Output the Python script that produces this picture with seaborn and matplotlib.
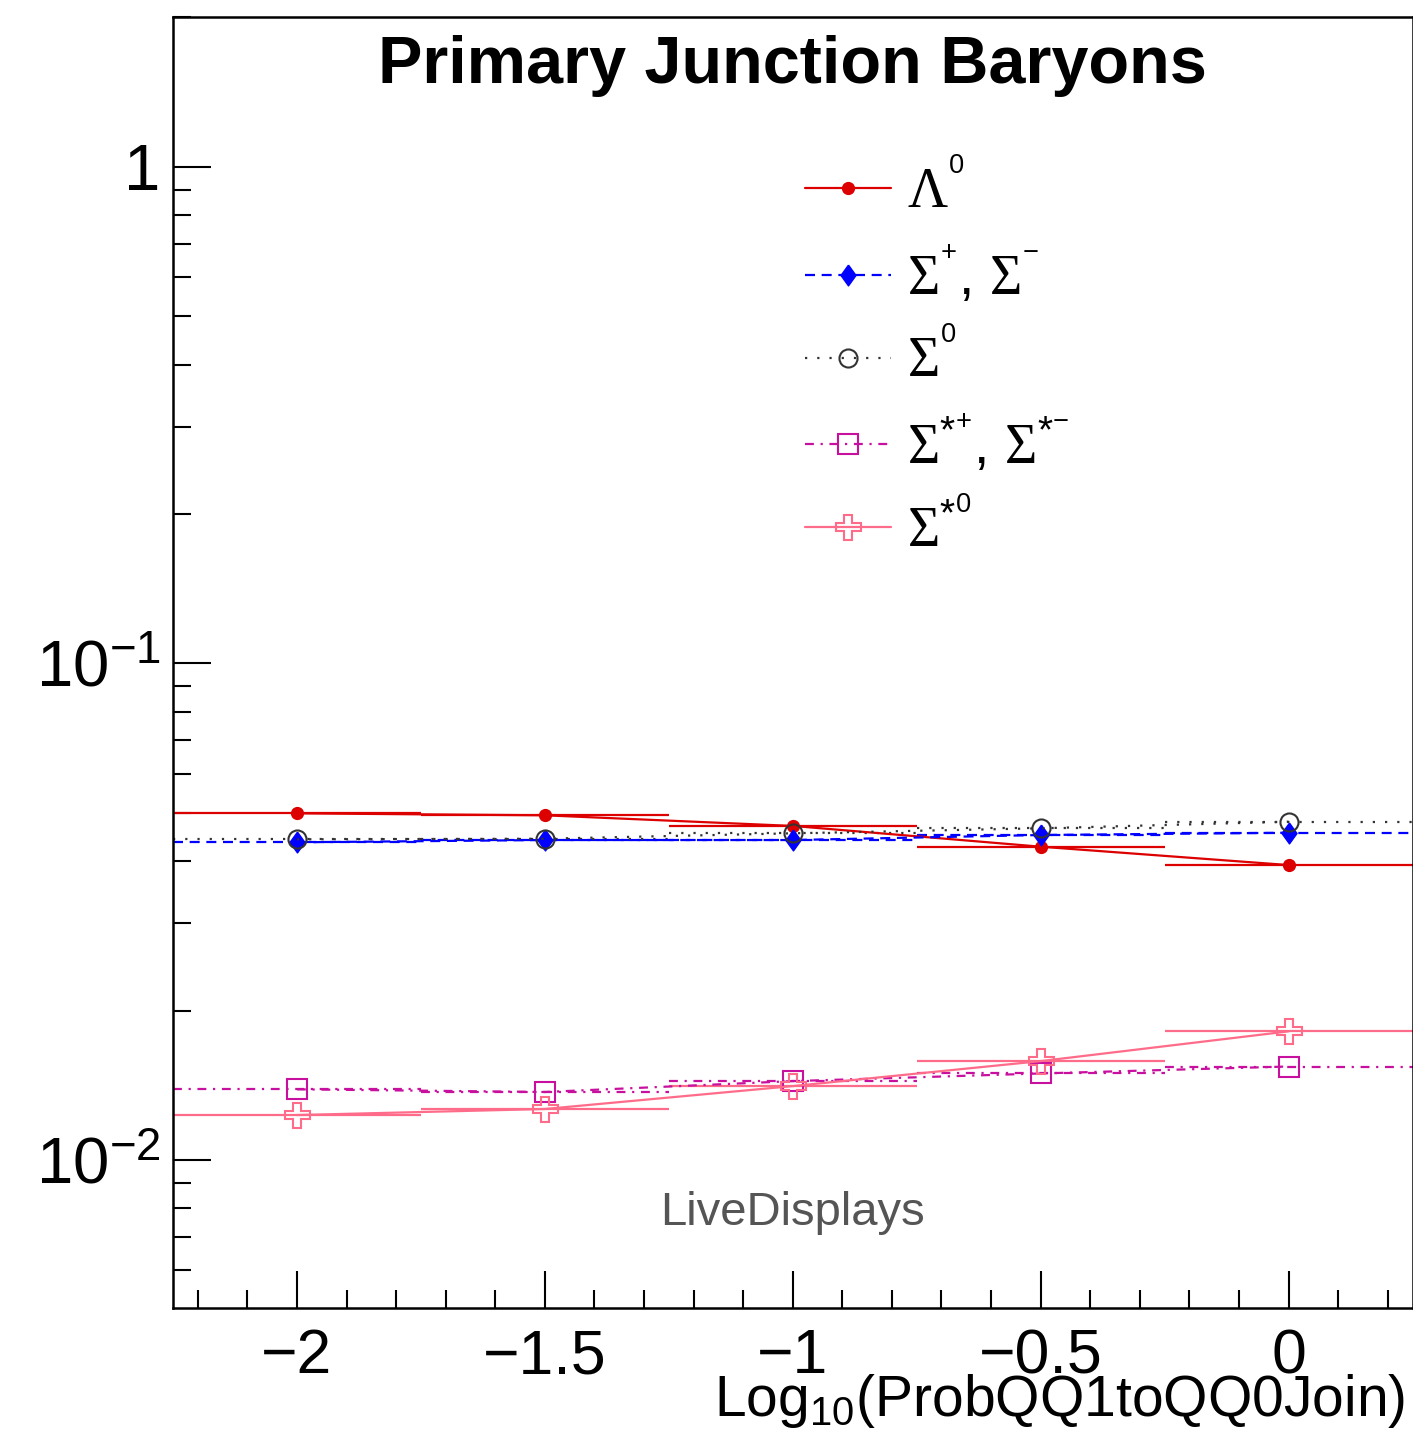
import numpy as np
import pandas as pd
import matplotlib
matplotlib.use("Agg")
import matplotlib.pyplot as plt
import seaborn as sns
from matplotlib.ticker import FixedLocator, FixedFormatter, NullFormatter

# ---------------- data ----------------
x_vals = [-2.0, -1.5, -1.0, -0.5, 0.0]
lambda0 = [0.04991, 0.04946, 0.04708, 0.04276, 0.03927]
sigma_pm = [0.04364, 0.04410, 0.04410, 0.04514, 0.04562]
sigma0 = [0.04425, 0.04437, 0.04550, 0.04657, 0.04801]
sigmastar_pm = [0.01388, 0.01371, 0.01442, 0.01494, 0.01543]
sigmastar0 = [0.01232, 0.01267, 0.01409, 0.01582, 0.01816]
bin_half_width = 0.25

series_names = ["Λ0", "Σ±", "Σ0", "Σ*±", "Σ*0"]
series_labels = [
    r"$\mathcal{\Lambda}^{{}^{0}}$",
    r"$\mathcal{\Sigma}^{{}^{+}}$, $\mathcal{\Sigma}^{{}^{-}}$",
    r"$\mathcal{\Sigma}^{{}^{0}}$",
    r"$\mathcal{\Sigma}^{*^{+}}$, $\mathcal{\Sigma}^{*^{-}}$",
    r"$\mathcal{\Sigma}^{*^{0}}$",
]
x_tick_vals = [-2.0, -1.5, -1.0, -0.5, 0.0]
x_tick_labels = ["\u22122", "\u22121.5", "\u22121", "\u22120.5", "0"]
y_tick_vals = [0.01, 0.1, 1.0]
y_tick_labels = [r"$10^{-2}$", r"$10^{-1}$", "1"]
title = "Primary Junction Baryons"
xlabel = r"Log$_{10}$(ProbQQ1toQQ0Join)"
watermark = "LiveDisplays"

# ---------------- style ----------------
sns.set_style("white")
plt.rcParams["font.family"] = ["Liberation Sans", "DejaVu Sans"]
plt.rcParams["text.color"] = "black"
plt.rcParams["axes.labelcolor"] = "black"
plt.rcParams["mathtext.fontset"] = "custom"
plt.rcParams["mathtext.rm"] = "Liberation Sans"
plt.rcParams["mathtext.it"] = "Liberation Sans:italic"
plt.rcParams["mathtext.bf"] = "Liberation Sans:bold"
plt.rcParams["mathtext.cal"] = "Liberation Serif"

W, H = 1413, 1438
fig = plt.figure(figsize=(W / 100, H / 100), dpi=100)
fig.patch.set_facecolor("white")
ax = fig.add_axes([173 / W, (H - 1308) / H, (1412.5 - 173) / W, (1308 - 17) / H])
ax.set_facecolor("white")

diamond = [(0, 1), (0.72, 0), (0, -1), (-0.72, 0), (0, 1)]
styles = {
    "Λ0": dict(color="#dd0000", ls="-", marker="o", ms=8.5, mfc="#dd0000", mew=1.0),
    "Σ±": dict(color="#0000ff", ls=(0, (4.5, 3)), marker=diamond, ms=15, mfc="#0000ff", mew=1.0),
    "Σ0": dict(color="#333333", ls=(0, (1, 4.5)), marker="o", ms=13, mfc="none", mew=1.5),
    "Σ*±": dict(color="#c8109f", ls=(0, (4, 3, 1, 3)), marker="s", ms=15, mfc="none", mew=1.5),
    "Σ*0": dict(color="#ff6c8a", ls="-", marker="P", ms=18, mfc="none", mew=1.5),
}
all_y = [lambda0, sigma_pm, sigma0, sigmastar_pm, sigmastar0]

rows = []
for name, ys in zip(series_names, all_y):
    for xv, yv in zip(x_vals, ys):
        rows.append({"series": name, "x": xv, "y": yv})
df = pd.DataFrame(rows)

handles = []
for name, label in zip(series_names, series_labels):
    st = styles[name]
    sub = df[df["series"] == name]
    # horizontal bin-width bars
    ax.hlines(sub["y"], sub["x"] - bin_half_width, sub["x"] + bin_half_width,
              colors=st["color"], linestyles=st["ls"], linewidth=1.6, zorder=2)
    sns.lineplot(data=sub, x="x", y="y", ax=ax, color=st["color"], linestyle=st["ls"],
                 linewidth=1.6, marker=st["marker"], markersize=st["ms"],
                 markerfacecolor=st["mfc"], markeredgecolor=st["color"],
                 markeredgewidth=st["mew"], zorder=3, legend=False)
    h, = ax.plot([], [], color=st["color"], linestyle=st["ls"], linewidth=1.6,
                 marker=st["marker"], markersize=st["ms"], markerfacecolor=st["mfc"],
                 markeredgecolor=st["color"], markeredgewidth=st["mew"], label=label)
    handles.append(h)

ax.set_yscale("log")
ax.set_xlim(-2.25, 0.25)
ax.set_ylim(10 ** (-2.298), 10 ** 0.302)

ax.xaxis.set_major_locator(FixedLocator(x_tick_vals))
ax.xaxis.set_major_formatter(FixedFormatter(x_tick_labels))
ax.xaxis.set_minor_locator(FixedLocator(np.arange(-2.2, 0.25, 0.1)))
ax.yaxis.set_major_locator(FixedLocator(y_tick_vals))
ax.yaxis.set_major_formatter(FixedFormatter(y_tick_labels))
minor_y = [m * 10.0 ** e for e in (-3, -2, -1, 0) for m in range(2, 10)]
ax.yaxis.set_minor_locator(FixedLocator(minor_y))
ax.yaxis.set_minor_formatter(NullFormatter())

ax.tick_params(axis="both", which="major", direction="in", length=27, width=1.5,
               labelsize=45, color="black", labelcolor="black")
ax.tick_params(axis="y", which="major", labelsize=47)
ax.tick_params(axis="both", which="minor", direction="in", length=13, width=1.5, color="black")
ax.tick_params(axis="x", which="both", top=False, bottom=True, pad=14)
ax.tick_params(axis="y", which="both", right=False, left=True, pad=9)
for sp in ax.spines.values():
    sp.set_visible(True)
    sp.set_color("black")
    sp.set_linewidth(1.8)

ax.set_xlabel(xlabel, fontsize=41, ha="right", va="top", color="black")
ax.xaxis.set_label_coords((1405 - 173) / (1412.5 - 173), -(1372 - 1308) / (1308 - 17))
ax.set_ylabel("")

fig.text(792 / W, 1 - 66 / H, title, ha="center", va="center", fontsize=48,
         fontweight="bold", color="black")
fig.text(792 / W, 1 - 1213 / H, watermark, ha="center", va="center", fontsize=34, color="#555555")

leg = ax.legend(handles=handles, loc="upper left",
                bbox_to_anchor=((805 - 173) / (1412.5 - 173), 1 - (162 - 17) / (1308 - 17)),
                frameon=False, fontsize=40, handlelength=1.55, handletextpad=0.28,
                labelspacing=0.45, borderaxespad=0, borderpad=0, numpoints=1)
for t in leg.get_texts():
    t.set_color("black")

fig.savefig("out.png", dpi=100, facecolor="white")
